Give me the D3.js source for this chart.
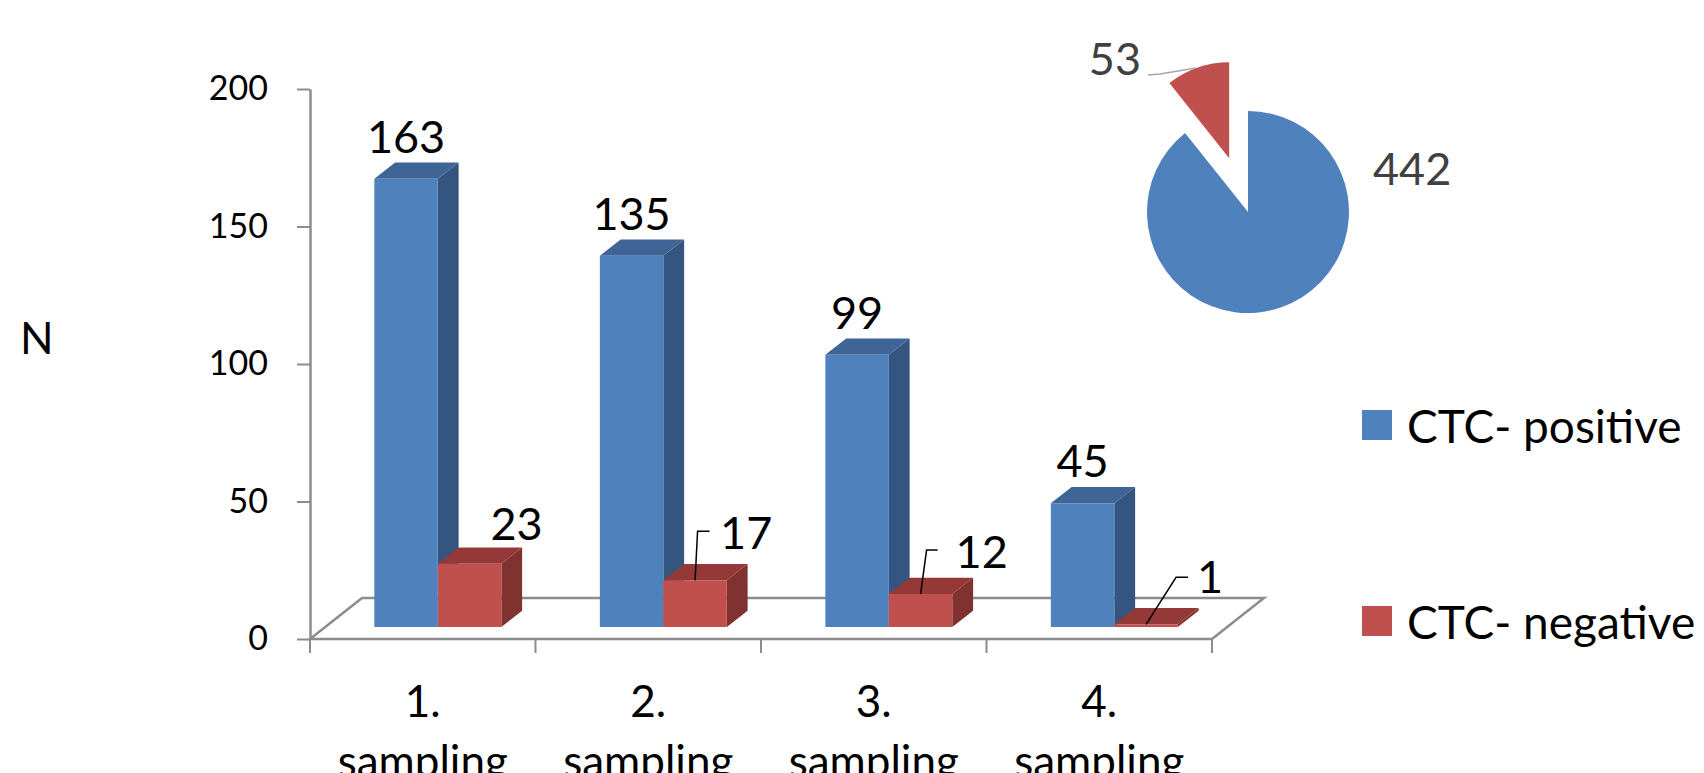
<!DOCTYPE html>
<html>
<head>
<meta charset="utf-8">
<script src="https://cdn.jsdelivr.net/npm/d3@7"></script>
<style>
  body { margin: 0; background: #fff; }
  svg { display: block; font-family: Lato, "Open Sans", sans-serif; }
</style>
</head>
<body>
<div id="chart"></div>
<script>
// data
var categories = ["1. sampling", "2. sampling", "3. sampling", "4. sampling"];
var seriesNames = ["CTC- positive", "CTC- negative"];
var positive = [163, 135, 99, 45];
var negative = [23, 17, 12, 1];
var pieTotals = [442, 53];
var yTicks = [0, 50, 100, 150, 200];

var width = 1704, height = 773;
var color_front = ["#4F81BD", "#C0504D"];
var color_side = ["#34557F", "#7F3230"];
var color_top = ["#3E6596", "#943937"];
var axis_color = "#8C8C8C";

// depth vector of the 3d floor and where the bars sit in it
var depth = {dx: 52, dy: -41};
var barZ = [0.29, 0.69];

// label placement (offsets from the top front edge of each bar)
var posLabel = {tx: 0, ty: -26};
var negLabel = [
  {tx: 47, ty: -24, anchor: "middle"},
  {tx: 25, ty: -31, anchor: "start", elbow: [2.5, -49], arm: 12},
  {tx: 35, ty: -26, anchor: "start", elbow: [6, -44], arm: 11},
  {tx: 51, ty: -31, anchor: "start", elbow: [30, -47], arm: 12}
];

var svg = d3.select("#chart").append("svg")
  .attr("width", width)
  .attr("height", height);

var x = d3.scaleBand().domain(categories).range([310, 1212])
  .paddingInner(0.437).paddingOuter(0.2185);
var xs = d3.scaleBand().domain(seriesNames).range([0, x.bandwidth()]);
var y = d3.scaleLinear().domain([0, 200]).range([639, 89]);

function P(xv, yv, z) { return [xv + depth.dx * z, yv + depth.dy * z]; }
function pts(arr) { return arr.map(p => p.join(",")).join(" "); }

//floor
var fx0 = x.range()[0], fx1 = x.range()[1], fy = y(0);
svg.append("polygon")
  .attr("points", pts([[fx0, fy], [fx1, fy], P(fx1, fy, 1), P(fx0, fy, 1)]))
  .attr("fill", "none")
  .attr("stroke", axis_color)
  .attr("stroke-width", 2.5);

// x ticks at category boundaries
var step = x.step();
var bounds = d3.range(categories.length + 1).map(i => fx0 + i * step);
svg.selectAll("line.xtick").data(bounds).enter().append("line")
  .attr("x1", d => d).attr("x2", d => d)
  .attr("y1", fy).attr("y2", fy + 14)
  .attr("stroke", axis_color).attr("stroke-width", 2);

// y axis
var yAxis = d3.axisLeft(y).tickValues(yTicks).tickSize(13).tickSizeOuter(0).tickPadding(29);
var gy = svg.append("g").attr("transform", "translate(" + fx0 + ",0)").call(yAxis);
gy.select(".domain").attr("stroke", axis_color).attr("stroke-width", 2.5);
gy.selectAll(".tick line").attr("stroke", axis_color).attr("stroke-width", 2);
gy.selectAll(".tick text").attr("font-size", 34).attr("fill", "#000")
  .attr("font-family", "Lato, sans-serif");

svg.append("text")
  .attr("x", 20).attr("y", 337)
  .attr("dominant-baseline", "central")
  .attr("font-size", 44)
  .text("N");

// bars
var series = [positive, negative];
categories.forEach((cat, i) => {
  series.forEach((vals, s) => {
    var xl = x(cat) + xs(seriesNames[s]);
    var xr = xl + xs.bandwidth();
    var yb = y(0), yt = y(vals[i]);
    var z0 = barZ[0], z1 = barZ[1];
    svg.append("polygon")
      .attr("points", pts([P(xr, yt, z0), P(xr, yt, z1), P(xr, yb, z1), P(xr, yb, z0)]))
      .attr("fill", color_side[s]);
    svg.append("polygon")
      .attr("points", pts([P(xl, yt, z0), P(xr, yt, z0), P(xr, yt, z1), P(xl, yt, z1)]))
      .attr("fill", color_top[s]);
    svg.append("polygon")
      .attr("points", pts([P(xl, yt, z0), P(xr, yt, z0), P(xr, yb, z0), P(xl, yb, z0)]))
      .attr("fill", color_front[s]);
  });
});

// data labels
categories.forEach((cat, i) => {
  series.forEach((vals, s) => {
    var xl = x(cat) + xs(seriesNames[s]);
    var a = P(xl + xs.bandwidth() / 2, y(vals[i]), barZ[0]);
    var lay = s == 0 ? posLabel : negLabel[i];
    if (lay.elbow) {
      var ex = a[0] + lay.elbow[0], ey = a[1] + lay.elbow[1];
      svg.append("polyline")
        .attr("points", pts([a, [ex, ey], [ex + lay.arm, ey]]))
        .attr("fill", "none").attr("stroke", "#000").attr("stroke-width", 1.5);
    }
    svg.append("text")
      .attr("x", a[0] + lay.tx)
      .attr("y", a[1] + lay.ty)
      .attr("text-anchor", lay.anchor || "middle")
      .attr("font-size", 45)
      .text(vals[i]);
  });
});

// category labels
categories.forEach(cat => {
  var parts = cat.split(" ");
  var cx = x(cat) + x.bandwidth() / 2;
  svg.append("text").attr("x", cx).attr("y", 717)
    .attr("text-anchor", "middle").attr("font-size", 44).text(parts[0]);
  svg.append("text").attr("x", cx).attr("y", 777)
    .attr("text-anchor", "middle").attr("font-size", 44).text(parts[1]);
});

// legend
var legend = svg.selectAll("g.legend").data(seriesNames).enter().append("g")
  .attr("transform", (d, i) => "translate(1362," + (410 + i * 196) + ")");
legend.append("rect").attr("width", 30).attr("height", 30)
  .attr("fill", (d, i) => color_front[i]);
legend.append("text").attr("x", 45).attr("y", 15)
  .attr("dominant-baseline", "central")
  .attr("font-size", 46)
  .text(d => d);

// pie
var pieC = [1248, 212], pieR = 101, explode = 57;
var pie = d3.pie().sort(null)(pieTotals);
var arc = d3.arc().innerRadius(0).outerRadius(pieR);
var arcOut = d3.arc().innerRadius(0).outerRadius(96);
var gp = svg.append("g").attr("transform", "translate(" + pieC + ")");
gp.selectAll("path").data(pie).enter().append("path")
  .attr("transform", (d, i) => {
    if (i == 0) return null;
    var m = (d.startAngle + d.endAngle) / 2;
    return "translate(" + (Math.sin(m) * explode) + "," + (-Math.cos(m) * explode) + ")";
  })
  .attr("d", (d, i) => i == 0 ? arc(d) : arcOut(d))
  .attr("fill", (d, i) => color_front[i]);

svg.append("polyline")
  .attr("points", pts([[1148, 75], [1160, 74], [1196, 68]]))
  .attr("fill", "none").attr("stroke", "#A6A6A6").attr("stroke-width", 1.5);
svg.append("text").attr("x", 1141).attr("y", 75)
  .attr("text-anchor", "end").attr("font-size", 45).attr("fill", "#404040")
  .text(pieTotals[1]);
svg.append("text").attr("x", 1373).attr("y", 185)
  .attr("text-anchor", "start").attr("font-size", 45).attr("fill", "#404040")
  .text(pieTotals[0]);
</script>
</body>
</html>
